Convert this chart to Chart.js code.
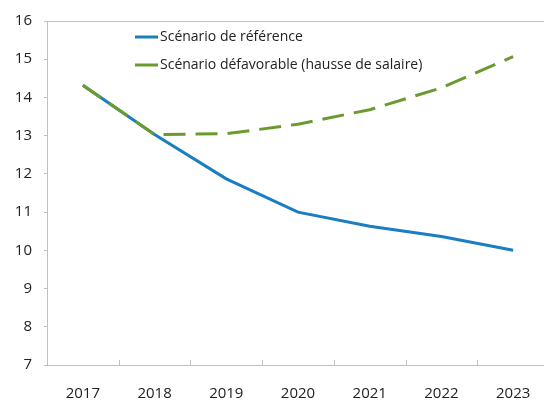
<!DOCTYPE html>
<html>
<head>
<meta charset="utf-8">
<script src="https://cdn.jsdelivr.net/npm/chart.js@4/dist/chart.umd.min.js"></script>
<style>
  html, body { margin: 0; padding: 0; background: #fff; overflow: hidden; }
  #wrap { position: relative; width: 552px; height: 400px; }
</style>
</head>
<body>
<div id="wrap"><canvas id="chart"></canvas></div>
<script>
// chart values
var years = ['2017', '2018', '2019', '2020', '2021', '2022', '2023'];
var reference = [14.32, 13.03, 11.87, 11.0, 10.63, 10.36, 10.0];
var adverse = [14.32, 13.03, 13.05, 13.3, 13.68, 14.25, 15.07];
var seriesNames = ['Scénario de référence', 'Scénario défavorable (hausse de salaire)'];
var seriesColors = ['#1b7dc2', '#6b9b2e'];

var axisGrey = '#c0c0c0';
var fontFamily = '"Open Sans", "Noto Sans", sans-serif';

// top frame line, inward x ticks and the legend
var framePlugin = {
    id: 'frame',
    afterDraw: function (chart) {
        var ctx = chart.ctx;
        var area = chart.chartArea;
        var x = chart.scales.x;
        ctx.save();
        ctx.strokeStyle = axisGrey;
        ctx.lineWidth = 1;
        ctx.beginPath();
        ctx.moveTo(area.left, area.top + 0.5);
        ctx.lineTo(area.right, area.top + 0.5);
        var half = (x.getPixelForValue(1) - x.getPixelForValue(0)) / 2;
        for (var i = 1; i < years.length; i++) {
            var px = Math.round(x.getPixelForValue(i) - half) + 0.5;
            ctx.moveTo(px, area.bottom);
            ctx.lineTo(px, area.bottom - 5);
        }
        ctx.stroke();

        ctx.font = '14px ' + fontFamily;
        ctx.textBaseline = 'middle';
        ctx.fillStyle = '#222';
        var rows = [37, 65];
        chart.data.datasets.forEach(function (ds, k) {
            ctx.strokeStyle = ds.borderColor;
            ctx.lineWidth = 3;
            ctx.setLineDash([]);
            ctx.beginPath();
            ctx.moveTo(135, rows[k]);
            ctx.lineTo(158, rows[k]);
            ctx.stroke();
            ctx.fillText(ds.label, 160, rows[k]);
        });
        ctx.restore();
    }
};

var ctx = document.getElementById('chart').getContext('2d');
var chart = new Chart(ctx, {
    type: 'line',
    data: {
        labels: years,
        datasets: [
            {
                label: seriesNames[0],
                data: reference,
                borderColor: seriesColors[0],
                borderWidth: 3,
                pointRadius: 0,
                tension: 0,
                order: 2
            },
            {
                label: seriesNames[1],
                data: adverse,
                borderColor: seriesColors[1],
                borderWidth: 3,
                borderDash: [22, 10],
                pointRadius: 0,
                tension: 0,
                order: 1
            }
        ]
    },
    options: {
        responsive: true,
        maintainAspectRatio: false,
        animation: false,
        layout: { padding: { top: 18, right: 3, left: 0, bottom: 0 } },
        plugins: {
            legend: { display: false },
            title: { display: false },
            tooltip: { enabled: false }
        },
        scales: {
            x: {
                offset: true,
                grid: { display: false },
                border: { color: axisGrey, width: 1 },
                ticks: {
                    color: '#222',
                    font: { family: fontFamily, size: 15 },
                    padding: 12,
                    maxRotation: 0
                },
                afterFit: function (scale) { scale.height = 35; }
            },
            y: {
                min: 7,
                max: 16,
                ticks: {
                    stepSize: 1,
                    color: '#222',
                    font: { family: fontFamily, size: 15 },
                    padding: 12
                },
                grid: {
                    drawOnChartArea: false,
                    drawTicks: true,
                    tickLength: 3,
                    color: axisGrey
                },
                border: { color: axisGrey, width: 1 },
                afterFit: function (scale) { scale.width = 47; }
            }
        }
    },
    plugins: [framePlugin]
});
</script>
</body>
</html>
